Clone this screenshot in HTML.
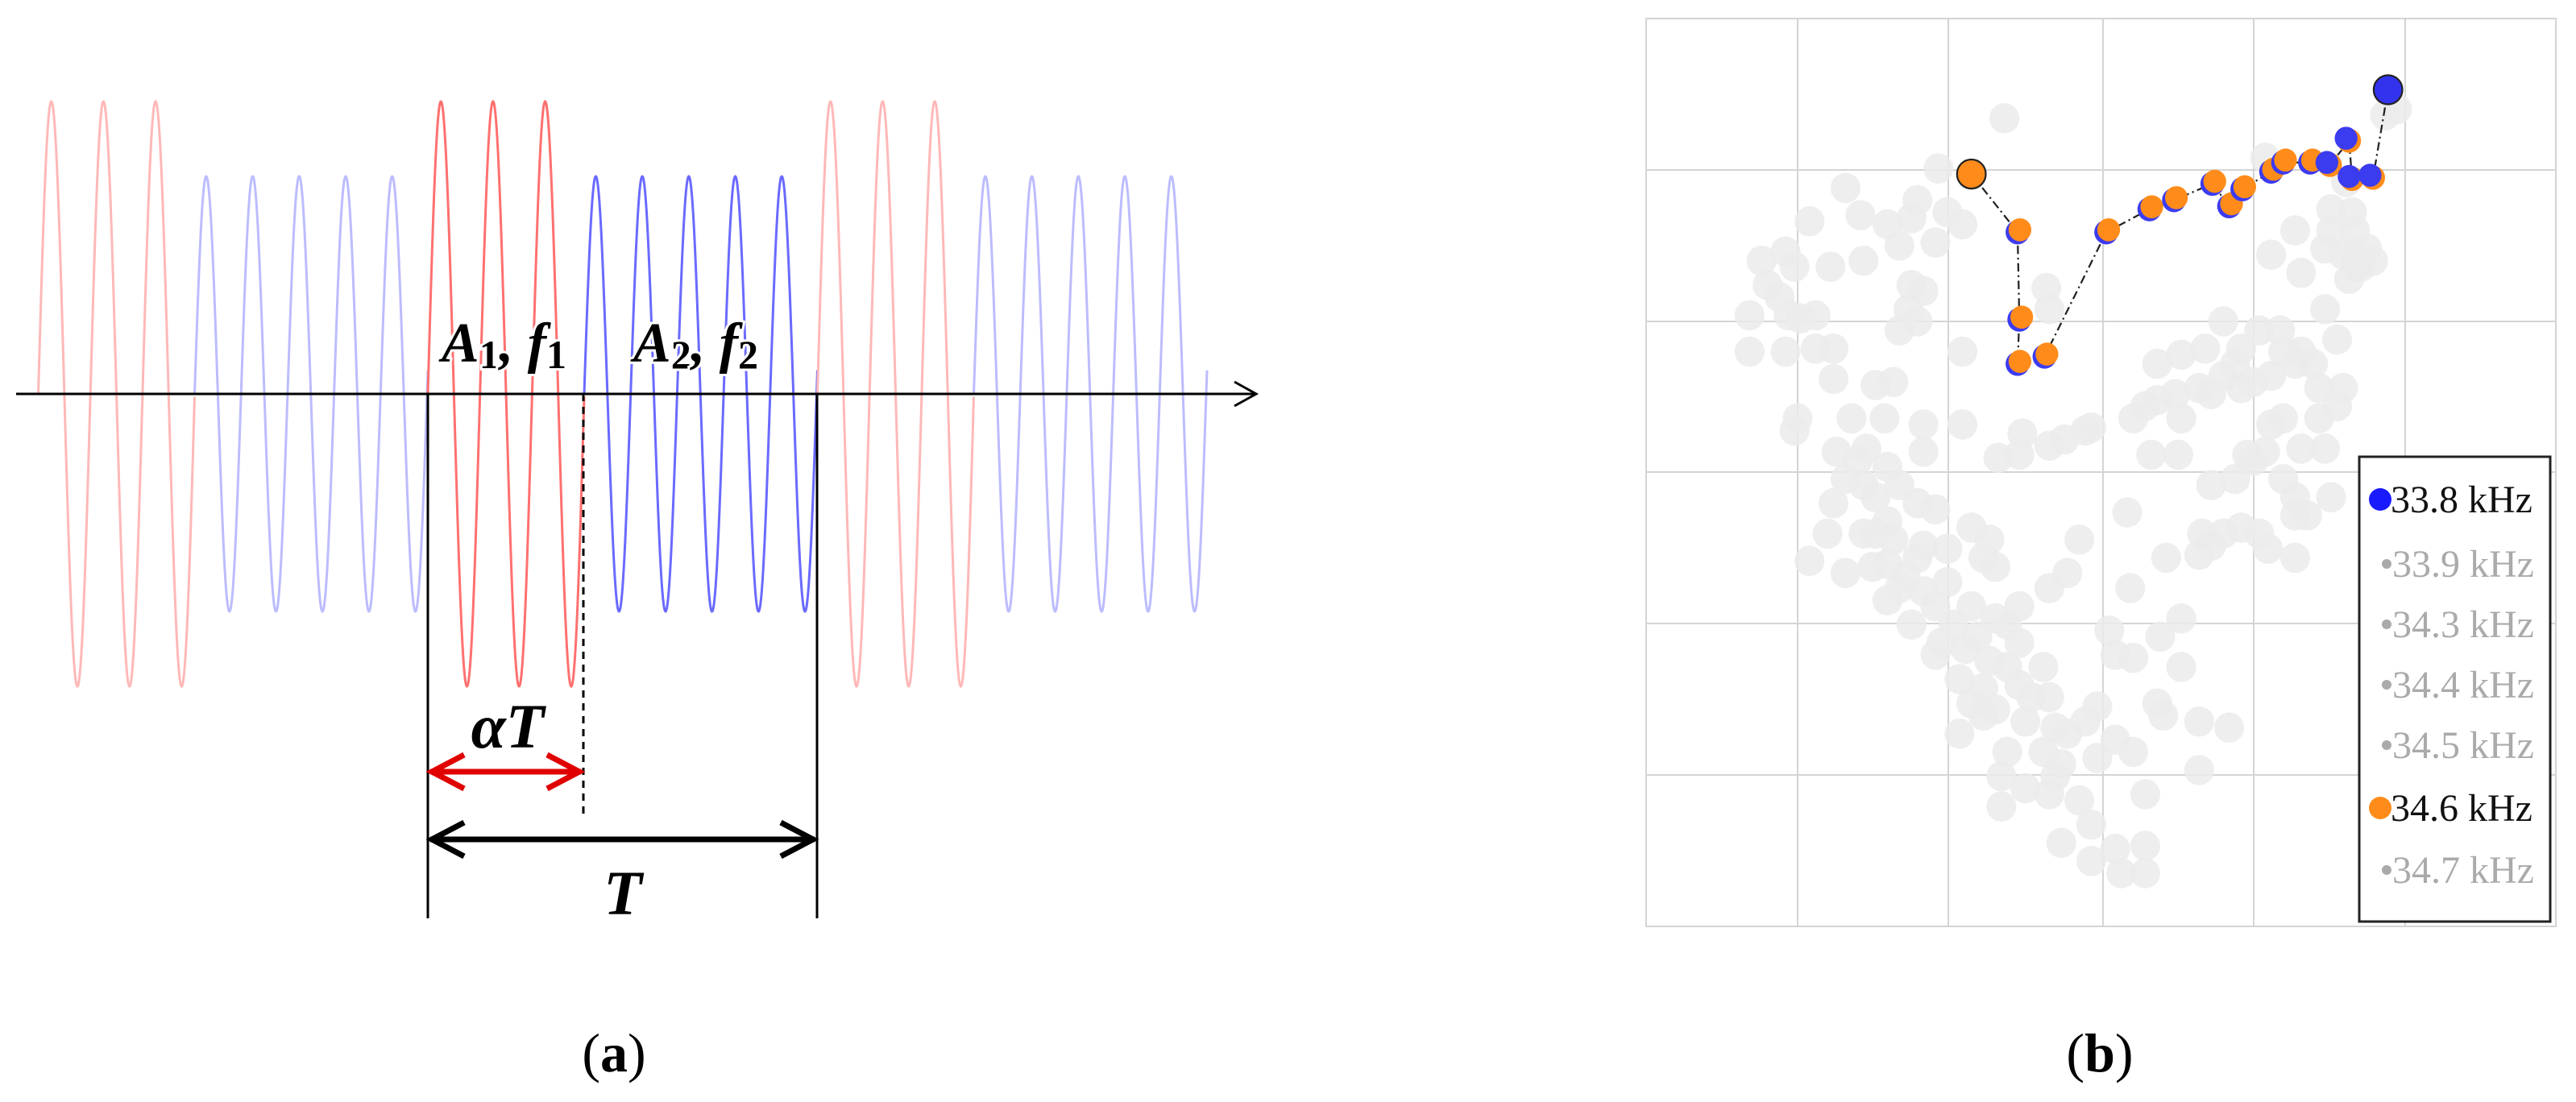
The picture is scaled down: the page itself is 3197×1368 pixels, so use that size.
<!DOCTYPE html>
<html><head><meta charset="utf-8"><style>
html,body{margin:0;padding:0;background:#fff;}
svg{display:block;}
text{font-family:"Liberation Serif",serif;}
</style></head><body>
<svg id="s" width="3197" height="1368" viewBox="0 0 3197 1368" xmlns="http://www.w3.org/2000/svg">
<rect width="3197" height="1368" fill="#fff"/>
<g id="waves" fill="none" stroke-width="3"></g>
<line x1="20" y1="489" x2="1559" y2="489" stroke="#000" stroke-width="3"/>
<polyline points="1532,474 1559,489 1532,504" fill="none" stroke="#000" stroke-width="3"/>
<line x1="531" y1="489" x2="531" y2="1140" stroke="#000" stroke-width="3"/>
<line x1="1014" y1="489" x2="1014" y2="1140" stroke="#000" stroke-width="3"/>
<line x1="724" y1="489" x2="724" y2="1013" stroke="#000" stroke-width="3" stroke-dasharray="9,7"/>
<line x1="534" y1="958" x2="721" y2="958" stroke="#e00000" stroke-width="7"/>
<polyline points="576,937 536,958 576,979" fill="none" stroke="#e00000" stroke-width="7"/>
<polyline points="679,937 719,958 679,979" fill="none" stroke="#e00000" stroke-width="7"/>
<line x1="534" y1="1042" x2="1011" y2="1042" stroke="#000" stroke-width="7"/>
<polyline points="576,1021 536,1042 576,1063" fill="none" stroke="#000" stroke-width="7"/>
<polyline points="969,1021 1009,1042 969,1063" fill="none" stroke="#000" stroke-width="7"/>
<g font-weight="bold" font-style="italic" fill="#000" stroke="#fff" stroke-width="6" paint-order="stroke">
<text x="548" y="449" font-size="70">A<tspan font-size="50" font-style="normal" dy="8">1</tspan><tspan dy="-8">, </tspan>f<tspan font-size="50" font-style="normal" dy="8">1</tspan></text>
<text x="786" y="449" font-size="70">A<tspan font-size="50" font-style="normal" dy="8">2</tspan><tspan dy="-8">, </tspan>f<tspan font-size="50" font-style="normal" dy="8">2</tspan></text>
<text x="630" y="928" font-size="78" text-anchor="middle">αT</text>
<text x="773" y="1135" font-size="78" text-anchor="middle">T</text>
</g>
<text x="762" y="1330" font-size="68" text-anchor="middle">(<tspan font-weight="bold">a</tspan>)</text>
<text x="2606" y="1330" font-size="68" text-anchor="middle">(<tspan font-weight="bold">b</tspan>)</text>

<g stroke="#d4d4d4" stroke-width="2" fill="none">
<rect x="2043" y="23" width="1129" height="1127"/>
<line x1="2231" y1="23" x2="2231" y2="1150"/><line x1="2418" y1="23" x2="2418" y2="1150"/>
<line x1="2610" y1="23" x2="2610" y2="1150"/><line x1="2797" y1="23" x2="2797" y2="1150"/>
<line x1="2985" y1="23" x2="2985" y2="1150"/>
<line x1="2043" y1="211" x2="3172" y2="211"/><line x1="2043" y1="399" x2="3172" y2="399"/>
<line x1="2043" y1="586" x2="3172" y2="586"/><line x1="2043" y1="774" x2="3172" y2="774"/>
<line x1="2043" y1="962" x2="3172" y2="962"/>
</g>
<g id="gray" transform="translate(2030,0) scale(0.744,0.7527)" fill="#ebebeb" fill-opacity="0.85"></g>
<g transform="translate(2030,0) scale(0.744,0.7527)">
<polyline points="560,287 637,383 640,527 637,600 682,588 785,383 857,345 898,330 962,303 990,340 1012,312 1060,283 1080,268 1125,268 1158,272 1190,232 1195,295 1230,293 1255,148" fill="none" stroke="#222" stroke-width="3" stroke-dasharray="14,6,3,6"/>
<g id="path"></g>
<circle cx="560" cy="287" r="24" fill="#ff8c1a" stroke="#222" stroke-width="3"/>
<circle cx="1255" cy="148" r="24" fill="#3333ee" stroke="#222" stroke-width="3"/>
</g>
<rect x="2928" y="567" width="237" height="577" fill="#fff" stroke="#222" stroke-width="3"/>
<g font-size="48">
<circle cx="2954" cy="620" r="14" fill="#1a1aff"/><text x="2967" y="636" fill="#111">33.8 kHz</text>
<circle cx="2962" cy="700" r="6" fill="#aaa"/><text x="2969" y="716" fill="#aaa">33.9 kHz</text>
<circle cx="2962" cy="775" r="6" fill="#aaa"/><text x="2969" y="791" fill="#aaa">34.3 kHz</text>
<circle cx="2962" cy="850" r="6" fill="#aaa"/><text x="2969" y="866" fill="#aaa">34.4 kHz</text>
<circle cx="2962" cy="925" r="6" fill="#aaa"/><text x="2969" y="941" fill="#aaa">34.5 kHz</text>
<circle cx="2954" cy="1003" r="14" fill="#ff8c1a"/><text x="2967" y="1019" fill="#111">34.6 kHz</text>
<circle cx="2962" cy="1080" r="6" fill="#aaa"/><text x="2969" y="1096" fill="#aaa">34.7 kHz</text>
</g>
</svg>
<script>
(function(){
var NS="http://www.w3.org/2000/svg";
var w=document.getElementById("waves");
function seg(s,light){
  var T=483.5, rp=64.7, bp=57.7, rl=194;
  var d="",x;
  for(x=0;x<=rl;x+=0.5){d+=(x?"L":"M")+(s+x).toFixed(1)+","+(489-363*Math.sin(2*Math.PI*x/rp)).toFixed(1);}
  var p=document.createElementNS(NS,"path");p.setAttribute("d",d);p.setAttribute("stroke",light?"#ffb8b8":"#ff7070");w.appendChild(p);
  d="";
  for(x=0;x<=T-rl;x+=0.5){d+=(x?"L":"M")+(s+rl+x).toFixed(1)+","+(489-270*Math.sin(2*Math.PI*x/bp)).toFixed(1);}
  p=document.createElementNS(NS,"path");p.setAttribute("d",d);p.setAttribute("stroke",light?"#bcbcff":"#6a6aff");w.appendChild(p);
}
seg(47.5,true);seg(531,false);seg(1014.5,true);
var g=[[615,195],[505,278],[350,310],[290,365],[375,355],[470,330],[520,350],[545,370],[440,405],[500,400],[210,430],[250,415],[265,440],[325,440],[380,430],[240,490],[190,520],[255,520],[275,525],[190,580],[250,580],[300,575],[330,575],[460,470],[480,480],[455,510],[440,545],[470,530],[545,580],[330,625],[400,635],[430,630],[360,690],[415,690],[270,690],[265,710],[335,745],[385,740],[480,745],[605,755],[640,750],[690,735],[715,725],[750,710],[760,705],[645,715],[350,790],[380,800],[420,770],[400,820],[330,830],[420,860],[470,830],[500,840],[320,880],[380,880],[430,890],[560,870],[590,890],[580,920],[600,935],[520,905],[470,920],[420,930],[290,925],[350,945],[395,935],[440,970],[420,990],[480,975],[500,1000],[560,1000],[600,1020],[620,1030],[530,1030],[460,1030],[510,1060],[550,1070],[590,1090],[620,1100],[540,1120],[580,1135],[640,1130],[690,1150],[600,1170],[650,1190],[700,1200],[720,1210],[540,1210],[620,1240],[680,1240],[710,1260],[770,1250],[770,1165],[750,1190],[800,1220],[830,1240],[870,1160],[880,1180],[940,1190],[990,1200],[940,1270],[650,1300],[690,1310],[610,1330],[760,1360],[710,1390],[800,1400],[850,1395],[760,1420],[810,1440],[850,1440],[850,1310],[800,1080],[830,1085],[790,1040],[875,1050],[910,1020],[910,1100],[825,970],[820,845],[740,890],[720,945],[690,970],[885,920],[945,880],[960,900],[940,915],[980,880],[1010,870],[1040,880],[1055,905],[1100,920],[1100,850],[1120,850],[1160,820],[960,800],[1000,790],[1030,760],[1050,745],[1060,700],[1080,690],[1140,690],[1170,670],[1180,640],[1140,640],[1100,600],[1080,580],[1030,630],[1010,640],[980,620],[940,640],[900,650],[870,660],[850,670],[830,690],[910,690],[870,600],[910,585],[950,575],[1010,575],[980,530],[1040,545],[1075,545],[1110,580],[1150,510],[1170,560],[1190,460],[1210,440],[1220,410],[1200,380],[1195,350],[1160,345],[1150,410],[1110,450],[1100,380],[1060,420],[1050,260],[1250,190],[1270,180],[1230,430],[685,475],[690,510],[860,750],[905,750],[1020,750],[1110,740],[1150,740],[1100,820],[1080,790],[545,700],[480,700],
[400,880],[450,950],[520,960],[570,1050],[640,1060],[660,1150],[560,1160],[610,1280],[700,1280],[740,1320],[480,900],[440,800],[370,760],[300,520],[220,470],[460,360],[420,370],[580,1180],[680,1100],[1180,420],[1200,420],[1185,300],[1160,380],[1000,600],[1060,620],[960,650],[1130,600],[1200,440],[500,1080],[640,1000]];
var gg=document.getElementById("gray");
g.forEach(function(p){var c=document.createElementNS(NS,"circle");c.setAttribute("cx",p[0]);c.setAttribute("cy",p[1]);c.setAttribute("r",25);gg.appendChild(c);});
var pts=[[637,383],[640,527],[637,600],[682,588],[785,383],[857,345],[898,330],[962,303],[990,340],[1012,312],[1060,283],[1080,268],[1125,268],[1158,272],[1190,232],[1195,295],[1230,293]];
var pg=document.getElementById("path");
pts.forEach(function(p,i){
  var blueFirst=i>=13;
  var c=document.createElementNS(NS,"circle");c.setAttribute("cx",p[0]);c.setAttribute("cy",p[1]);c.setAttribute("r",20);c.setAttribute("fill",blueFirst?"#ff8c1a":"#3b3bf0");pg.appendChild(c);
  c=document.createElementNS(NS,"circle");c.setAttribute("cx",p[0]+(blueFirst?-5:4));c.setAttribute("cy",p[1]+(blueFirst?-4:-4));c.setAttribute("r",19);c.setAttribute("fill",blueFirst?"#3b3bf0":"#ff8c1a");pg.appendChild(c);
});
})();
</script>
</body></html>
